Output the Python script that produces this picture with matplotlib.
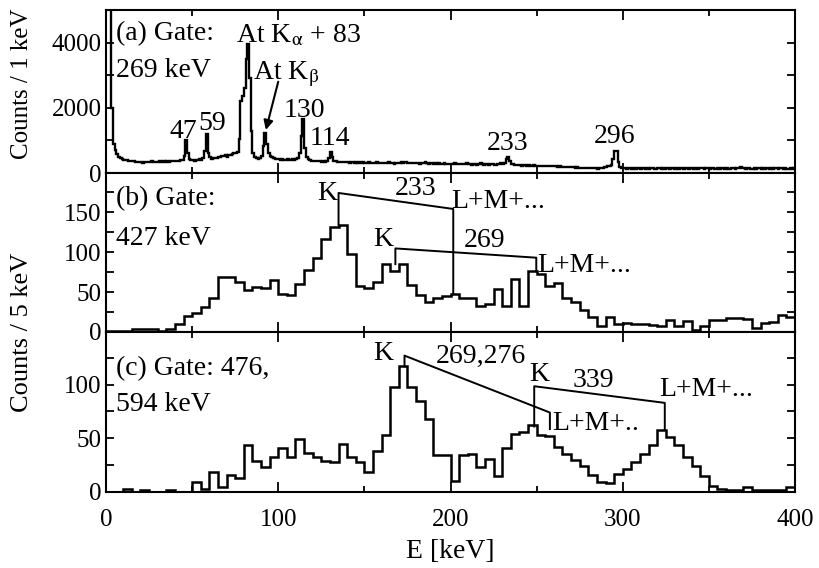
import numpy as np
import matplotlib
matplotlib.use("Agg")
import matplotlib.pyplot as plt
from matplotlib.ticker import MultipleLocator

plt.rcParams['font.family'] = ['Liberation Serif', 'DejaVu Serif']
plt.rcParams['mathtext.fontset'] = 'stix'
plt.rcParams['font.size'] = 20

# (a) gate on 269 keV, 1 keV bins from 0 to 400 keV
counts_a = [
    8000, 8000, 6000, 2000, 900, 700, 580, 500, 460, 430,
    410, 400, 390, 380, 370, 360, 360, 350, 340, 350,
    330, 320, 340, 330, 340, 350, 360, 340, 350, 330,
    350, 360, 340, 370, 350, 360, 340, 370, 380, 360,
    370, 380, 360, 390, 400, 520, 1010, 620, 420, 390,
    400, 380, 410, 400, 420, 410, 450, 680, 1190, 620,
    480, 440, 450, 470, 460, 500, 480, 520, 510, 540,
    500, 560, 540, 580, 600, 620, 650, 1050, 2200, 2350,
    2600, 3500, 3950, 2900, 1300, 620, 480, 450, 440, 470,
    520, 820, 1220, 880, 600, 520, 480, 450, 430, 420,
    420, 410, 420, 400, 410, 420, 400, 410, 420, 410,
    430, 450, 600, 1150, 1650, 780, 480, 420, 400, 380,
    380, 370, 370, 360, 360, 350, 360, 350, 370, 450,
    650, 480, 380, 360, 350, 340, 350, 330, 340, 330,
    340, 320, 330, 340, 320, 330, 310, 330, 320, 330,
    310, 320, 330, 310, 300, 320, 310, 330, 320, 300,
    320, 310, 300, 320, 330, 310, 300, 290, 310, 300,
    320, 330, 310, 330, 340, 320, 310, 300, 320, 310,
    300, 310, 290, 300, 310, 330, 300, 290, 310, 300,
    290, 300, 280, 300, 290, 280, 300, 290, 280, 290,
    280, 290, 300, 280, 270, 290, 280, 270, 290, 300,
    280, 270, 260, 280, 270, 260, 280, 300, 270, 260,
    270, 280, 260, 270, 290, 260, 250, 270, 280, 300,
    290, 320, 420, 500, 360, 280, 270, 250, 260, 240,
    250, 230, 240, 250, 230, 240, 220, 230, 240, 230,
    220, 230, 220, 210, 230, 220, 210, 200, 210, 220,
    210, 200, 190, 200, 180, 190, 170, 180, 190, 170,
    180, 170, 160, 170, 150, 160, 150, 160, 140, 150,
    160, 150, 140, 150, 140, 130, 150, 140, 160, 170,
    190, 200, 210, 260, 420, 690, 690, 330, 170, 150,
    140, 150, 130, 140, 150, 130, 140, 120, 150, 140,
    130, 140, 150, 120, 140, 130, 150, 140, 130, 120,
    140, 150, 130, 140, 120, 140, 150, 130, 140, 160,
    130, 140, 120, 150, 140, 130, 150, 140, 120, 140,
    150, 130, 140, 120, 140, 160, 140, 130, 150, 140,
    130, 140, 150, 130, 120, 140, 130, 150, 140, 130,
    140, 120, 130, 150, 140, 130, 140, 160, 180, 150,
    140, 130, 150, 140, 130, 120, 140, 130, 150, 140,
    130, 140, 120, 140, 150, 130, 140, 130, 150, 140,
    130, 140, 150, 130, 140, 120, 130, 140, 130, 140,
]

# (b) gate on 427 keV, 5 keV bins
counts_b = [
    1, 1, 1, 4, 4, 4, 1, 4, 10, 20,
    24, 31, 43, 69, 69, 63, 53, 56, 55, 65,
    48, 46, 60, 77, 93, 116, 131, 134, 97, 57,
    55, 62, 85, 76, 85, 59, 46, 37, 42, 45,
    47, 43, 42, 33, 35, 54, 33, 66, 33, 76,
    73, 57, 61, 43, 37, 27, 19, 8, 19, 10,
    11, 10, 10, 9, 8, 15, 8, 14, 3, 7,
    15, 15, 17, 17, 16, 5, 11, 12, 21, 19,
]

# (c) gate on 476, 594 keV, 5 keV bins
counts_c = [
    0, 0, 3, 0, 2, 0, 0, 2, 0, 0,
    9, 3, 19, 5, 16, 13, 44, 29, 23, 33,
    41, 33, 49, 36, 33, 29, 28, 45, 33, 28,
    19, 38, 53, 98, 117, 98, 85, 68, 34, 34,
    10, 34, 35, 23, 31, 15, 41, 54, 56, 62,
    53, 52, 42, 35, 30, 24, 16, 9, 8, 17,
    21, 28, 35, 44, 58, 51, 44, 33, 24, 15,
    6, 3, 2, 2, 5, 2, 2, 2, 2, 5,
]

edges_a = np.arange(0, 401, 1)
edges_5 = np.arange(0, 401, 5)

# peak labels in (a): text, energy, baseline height
peaks_a = [("47", 44.8, 1077), ("59", 61.6, 1323), ("130", 115.1, 1723),
           ("114", 130.2, 860), ("233", 233.4, 708), ("296", 295.3, 923)]

# K / L+M+... conversion brackets: K energy, K low, K high, L energy, L high, L low
brackets_b = [(135, 134, 174, 201.6, 154, 48), (168, 85, 104.6, 249.8, 93, 76)]
brackets_c = [(173.3, 117, 127, 257.7, 74, 58.6), (248.6, 61, 98.5, 324.4, 83, 58.6)]

# (text, x, y, ha)
labels_b = [("K", 134, 165, "right"), ("233", 180, 171, "center"),
            ("L+M+...", 200.5, 155, "left"), ("K", 167, 107.5, "right"),
            ("269", 220, 106, "center"), ("L+M+...", 250.6, 75, "left")]
labels_c = [("K", 167, 123, "right"), ("269,276", 217.4, 120.5, "center"),
            ("K", 251.7, 103, "center"), ("339", 282.8, 98, "center"),
            ("L+M+..", 259.3, 58, "left"), ("L+M+...", 321, 89, "left")]

W, H = 819, 568
fig = plt.figure(figsize=(W / 100, H / 100), dpi=100)
left, right = 106 / W, 795 / W
tops = [10, 173, 332]
bots = [173, 332, 492]
axes = [fig.add_axes([left, 1 - b / H, right - left, (b - t) / H]) for t, b in zip(tops, bots)]
ax_a, ax_b, ax_c = axes

ax_a.stairs(counts_a, edges_a, baseline=None, color='k', lw=1.7)
ax_b.stairs(counts_b, edges_5, baseline=None, color='k', lw=1.8)
ax_c.stairs(counts_c, edges_5, baseline=None, color='k', lw=1.8)

ax_a.set_ylim(0, 5000)
ax_b.set_ylim(0, 199)
ax_c.set_ylim(0, 149)
ax_a.yaxis.set_major_locator(MultipleLocator(2000))
ax_a.yaxis.set_minor_locator(MultipleLocator(1000))
for ax in (ax_b, ax_c):
    ax.yaxis.set_major_locator(MultipleLocator(50))
    ax.yaxis.set_minor_locator(MultipleLocator(25))

for ax in axes:
    ax.set_xlim(0, 400)
    ax.xaxis.set_major_locator(MultipleLocator(100))
    ax.xaxis.set_minor_locator(MultipleLocator(50))
    ax.tick_params(which='both', direction='in', top=True, right=True, width=1.3, labelsize=18)
    ax.tick_params(axis='x', which='major', length=7, pad=12)
    ax.tick_params(axis='x', which='minor', length=4)
    ax.tick_params(axis='y', which='both', length=6, pad=3)
    for s in ax.spines.values():
        s.set_linewidth(1.5)
ax_a.tick_params(labelbottom=False)
ax_b.tick_params(labelbottom=False)

# panel (a) labels
ax_a.text(5.8, 4090, "(a) Gate:", va='baseline')
ax_a.text(5.8, 2950, "269 keV", va='baseline')
ax_a.text(75.6, 4000, "At K$_{\\mathrm{\\alpha}}$ + 83", va='baseline')
ax_a.text(85.5, 2860, "At K$_{\\mathrm{\\beta}}$", va='baseline')
ax_a.annotate("", xy=(92.8, 1320), xytext=(100, 2800),
              arrowprops=dict(arrowstyle='-|>', color='k', lw=1.5,
                              mutation_scale=14, shrinkA=0, shrinkB=0))
for txt, x, y in peaks_a:
    ax_a.text(x, y, txt, ha='center', va='baseline')

# panel (b), (c) gate text and conversion brackets
ax_b.text(5.8, 159, "(b) Gate:", va='baseline')
ax_b.text(5.8, 109, "427 keV", va='baseline')
ax_c.text(5.8, 109, "(c) Gate: 476,", va='baseline')
ax_c.text(5.8, 75.7, "594 keV", va='baseline')

for ax, brs, labs in ((ax_b, brackets_b, labels_b), (ax_c, brackets_c, labels_c)):
    for ke, klo, khi, le, lhi, llo in brs:
        ax.plot([ke, ke, le, le], [klo, khi, lhi, llo], color='k', lw=1.4)
    for txt, x, y, ha in labs:
        ax.text(x, y, txt, ha=ha, va='baseline')

fig.text(22 / W, 1 - 84 / H, "Counts / 1 keV", rotation=90, ha='center', va='center', fontsize=18)
fig.text(22 / W, 1 - 332 / H, "Counts / 5 keV", rotation=90, ha='center', va='center', fontsize=19)
fig.text(450 / W, 1 - 551 / H, "E [keV]", ha='center', va='center', fontsize=20)

fig.savefig("out.png", dpi=100)
